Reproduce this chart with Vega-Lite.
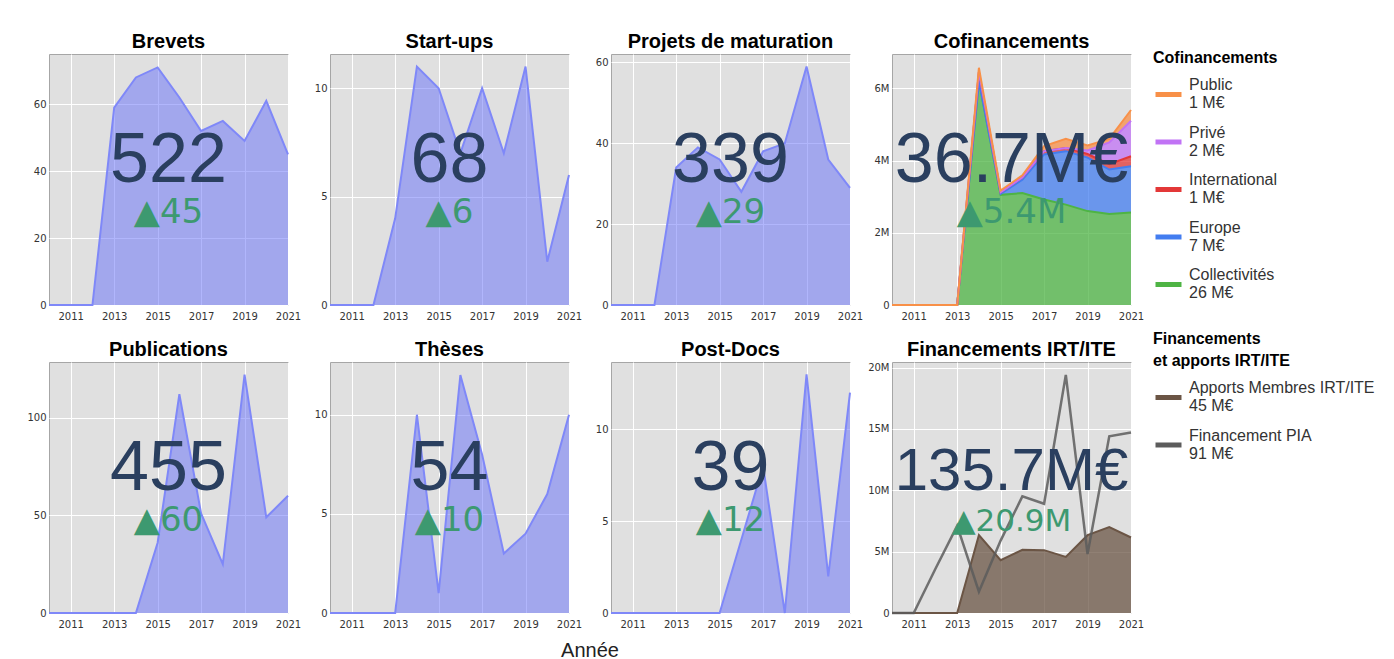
{
"$schema": "https://vega.github.io/schema/vega-lite/v6.json",
"background": "white",
"padding": {"left": 26, "top": 31, "right": 12, "bottom": 0},
"datasets": {
"kpi": [
{"panel":"Brevets","year":2010,"value":0},{"panel":"Brevets","year":2011,"value":0},{"panel":"Brevets","year":2012,"value":0},{"panel":"Brevets","year":2013,"value":59},{"panel":"Brevets","year":2014,"value":68},{"panel":"Brevets","year":2015,"value":71},{"panel":"Brevets","year":2016,"value":62},{"panel":"Brevets","year":2017,"value":52},{"panel":"Brevets","year":2018,"value":55},{"panel":"Brevets","year":2019,"value":49},{"panel":"Brevets","year":2020,"value":61},{"panel":"Brevets","year":2021,"value":45},
{"panel":"Start-ups","year":2010,"value":0},{"panel":"Start-ups","year":2011,"value":0},{"panel":"Start-ups","year":2012,"value":0},{"panel":"Start-ups","year":2013,"value":4},{"panel":"Start-ups","year":2014,"value":11},{"panel":"Start-ups","year":2015,"value":10},{"panel":"Start-ups","year":2016,"value":7},{"panel":"Start-ups","year":2017,"value":10},{"panel":"Start-ups","year":2018,"value":7},{"panel":"Start-ups","year":2019,"value":11},{"panel":"Start-ups","year":2020,"value":2},{"panel":"Start-ups","year":2021,"value":6},
{"panel":"Projets de maturation","year":2010,"value":0},{"panel":"Projets de maturation","year":2011,"value":0},{"panel":"Projets de maturation","year":2012,"value":0},{"panel":"Projets de maturation","year":2013,"value":34},{"panel":"Projets de maturation","year":2014,"value":39},{"panel":"Projets de maturation","year":2015,"value":36},{"panel":"Projets de maturation","year":2016,"value":28},{"panel":"Projets de maturation","year":2017,"value":38},{"panel":"Projets de maturation","year":2018,"value":40},{"panel":"Projets de maturation","year":2019,"value":59},{"panel":"Projets de maturation","year":2020,"value":36},{"panel":"Projets de maturation","year":2021,"value":29},
{"panel":"Publications","year":2010,"value":0},{"panel":"Publications","year":2011,"value":0},{"panel":"Publications","year":2012,"value":0},{"panel":"Publications","year":2013,"value":0},{"panel":"Publications","year":2014,"value":0},{"panel":"Publications","year":2015,"value":36},{"panel":"Publications","year":2016,"value":112},{"panel":"Publications","year":2017,"value":51},{"panel":"Publications","year":2018,"value":25},{"panel":"Publications","year":2019,"value":122},{"panel":"Publications","year":2020,"value":49},{"panel":"Publications","year":2021,"value":60},
{"panel":"Thèses","year":2010,"value":0},{"panel":"Thèses","year":2011,"value":0},{"panel":"Thèses","year":2012,"value":0},{"panel":"Thèses","year":2013,"value":0},{"panel":"Thèses","year":2014,"value":10},{"panel":"Thèses","year":2015,"value":1},{"panel":"Thèses","year":2016,"value":12},{"panel":"Thèses","year":2017,"value":8},{"panel":"Thèses","year":2018,"value":3},{"panel":"Thèses","year":2019,"value":4},{"panel":"Thèses","year":2020,"value":6},{"panel":"Thèses","year":2021,"value":10},
{"panel":"Post-Docs","year":2010,"value":0},{"panel":"Post-Docs","year":2011,"value":0},{"panel":"Post-Docs","year":2012,"value":0},{"panel":"Post-Docs","year":2013,"value":0},{"panel":"Post-Docs","year":2014,"value":0},{"panel":"Post-Docs","year":2015,"value":0},{"panel":"Post-Docs","year":2016,"value":4},{"panel":"Post-Docs","year":2017,"value":8},{"panel":"Post-Docs","year":2018,"value":0},{"panel":"Post-Docs","year":2019,"value":13},{"panel":"Post-Docs","year":2020,"value":2},{"panel":"Post-Docs","year":2021,"value":12}
],
"cofin": [
{"series":"Collectivités","year":2010,"value":0},{"series":"Collectivités","year":2011,"value":0},{"series":"Collectivités","year":2012,"value":0},{"series":"Collectivités","year":2013,"value":0},{"series":"Collectivités","year":2014,"value":6200000},{"series":"Collectivités","year":2015,"value":3050000},{"series":"Collectivités","year":2016,"value":3100000},{"series":"Collectivités","year":2017,"value":2920000},{"series":"Collectivités","year":2018,"value":2780000},{"series":"Collectivités","year":2019,"value":2600000},{"series":"Collectivités","year":2020,"value":2520000},{"series":"Collectivités","year":2021,"value":2560000},
{"series":"Europe","year":2010,"value":0},{"series":"Europe","year":2011,"value":0},{"series":"Europe","year":2012,"value":0},{"series":"Europe","year":2013,"value":0},{"series":"Europe","year":2014,"value":0},{"series":"Europe","year":2015,"value":30000},{"series":"Europe","year":2016,"value":370000},{"series":"Europe","year":2017,"value":1250000},{"series":"Europe","year":2018,"value":1480000},{"series":"Europe","year":2019,"value":1480000},{"series":"Europe","year":2020,"value":1230000},{"series":"Europe","year":2021,"value":1280000},
{"series":"International","year":2010,"value":0},{"series":"International","year":2011,"value":0},{"series":"International","year":2012,"value":0},{"series":"International","year":2013,"value":0},{"series":"International","year":2014,"value":250000},{"series":"International","year":2015,"value":40000},{"series":"International","year":2016,"value":60000},{"series":"International","year":2017,"value":90000},{"series":"International","year":2018,"value":90000},{"series":"International","year":2019,"value":100000},{"series":"International","year":2020,"value":150000},{"series":"International","year":2021,"value":280000},
{"series":"Privé","year":2010,"value":0},{"series":"Privé","year":2011,"value":0},{"series":"Privé","year":2012,"value":0},{"series":"Privé","year":2013,"value":0},{"series":"Privé","year":2014,"value":0},{"series":"Privé","year":2015,"value":0},{"series":"Privé","year":2016,"value":0},{"series":"Privé","year":2017,"value":0},{"series":"Privé","year":2018,"value":0},{"series":"Privé","year":2019,"value":100000},{"series":"Privé","year":2020,"value":600000},{"series":"Privé","year":2021,"value":980000},
{"series":"Public","year":2010,"value":0},{"series":"Public","year":2011,"value":0},{"series":"Public","year":2012,"value":0},{"series":"Public","year":2013,"value":0},{"series":"Public","year":2014,"value":120000},{"series":"Public","year":2015,"value":50000},{"series":"Public","year":2016,"value":60000},{"series":"Public","year":2017,"value":140000},{"series":"Public","year":2018,"value":250000},{"series":"Public","year":2019,"value":140000},{"series":"Public","year":2020,"value":100000},{"series":"Public","year":2021,"value":300000}
],
"irt": [
{"series":"Apports Membres IRT/ITE","year":2010,"value":0},{"series":"Apports Membres IRT/ITE","year":2011,"value":0},{"series":"Apports Membres IRT/ITE","year":2012,"value":0},{"series":"Apports Membres IRT/ITE","year":2013,"value":0},{"series":"Apports Membres IRT/ITE","year":2014,"value":6340000},{"series":"Apports Membres IRT/ITE","year":2015,"value":4300000},{"series":"Apports Membres IRT/ITE","year":2016,"value":5150000},{"series":"Apports Membres IRT/ITE","year":2017,"value":5120000},{"series":"Apports Membres IRT/ITE","year":2018,"value":4570000},{"series":"Apports Membres IRT/ITE","year":2019,"value":6340000},{"series":"Apports Membres IRT/ITE","year":2020,"value":7000000},{"series":"Apports Membres IRT/ITE","year":2021,"value":6150000},
{"series":"Financement PIA","year":2010,"value":0},{"series":"Financement PIA","year":2011,"value":0},{"series":"Financement PIA","year":2012,"value":3600000},{"series":"Financement PIA","year":2013,"value":7100000},{"series":"Financement PIA","year":2014,"value":1740000},{"series":"Financement PIA","year":2015,"value":5900000},{"series":"Financement PIA","year":2016,"value":9500000},{"series":"Financement PIA","year":2017,"value":8900000},{"series":"Financement PIA","year":2018,"value":19400000},{"series":"Financement PIA","year":2019,"value":4800000},{"series":"Financement PIA","year":2020,"value":14400000},{"series":"Financement PIA","year":2021,"value":14700000}
],
"labels": [
{"panel":"Brevets","total":"522","delta":"▲45"},
{"panel":"Start-ups","total":"68","delta":"▲6"},
{"panel":"Projets de maturation","total":"339","delta":"▲29"},
{"panel":"Cofinancements","total":"36.7M€","delta":"▲5.4M"},
{"panel":"Publications","total":"455","delta":"▲60"},
{"panel":"Thèses","total":"54","delta":"▲10"},
{"panel":"Post-Docs","total":"39","delta":"▲12"},
{"panel":"Financements IRT/ITE","total":"135.7M€","delta":"▲20.9M"}
]
},
"title": {"text": "Année", "orient": "bottom", "anchor": "middle", "frame": "group", "font": "Liberation Sans", "fontSize": 20, "fontWeight": "normal", "color": "#222", "offset": 11, "dx": 541},
"columns": 4,
"spacing": {"row": 57, "column": 42},
"bounds": "flush",
"resolve": {"scale": {"color": "independent"}, "legend": {"color": "independent"}},
"concat": [
{"title": "Brevets", "width": 239, "height": 251, "layer": [
 {"data": {"name": "kpi"}, "transform": [{"filter": "datum.panel == 'Brevets'"}],
  "mark": {"type": "area", "color": "#636efa", "fillOpacity": 0.5, "line": {"color": "#7f88f8", "strokeWidth": 2}},
  "encoding": {"x": {"field": "year", "type": "quantitative", "title": null, "scale": {"domain": [2010, 2021], "nice": false, "zero": false}, "axis": {"values": [2011, 2013, 2015, 2017, 2019, 2021], "format": "d"}},
   "y": {"field": "value", "type": "quantitative", "title": null, "scale": {"domain": [0, 75], "nice": false}, "axis": {"values": [0, 20, 40, 60]}}}},
 {"data": {"name": "labels"}, "transform": [{"filter": "datum.panel == 'Brevets'"}],
  "mark": {"type": "text", "font": "Liberation Sans", "fontSize": 70, "color": "#2a3f5f", "align": "center", "baseline": "alphabetic"},
  "encoding": {"text": {"field": "total"}, "x": {"datum": 2015.5, "type": "quantitative", "title": null}, "y": {"datum": 36.75, "type": "quantitative", "title": null}}},
 {"data": {"name": "labels"}, "transform": [{"filter": "datum.panel == 'Brevets'"}],
  "mark": {"type": "text", "font": "DejaVu Sans", "fontSize": 34, "color": "#3d9970", "align": "center", "baseline": "alphabetic"},
  "encoding": {"text": {"field": "delta"}, "x": {"datum": 2015.5, "type": "quantitative", "title": null}, "y": {"datum": 24.5, "type": "quantitative", "title": null}}}
]},
{"title": "Start-ups", "width": 239, "height": 251, "layer": [
 {"data": {"name": "kpi"}, "transform": [{"filter": "datum.panel == 'Start-ups'"}],
  "mark": {"type": "area", "color": "#636efa", "fillOpacity": 0.5, "line": {"color": "#7f88f8", "strokeWidth": 2}},
  "encoding": {"x": {"field": "year", "type": "quantitative", "title": null, "scale": {"domain": [2010, 2021], "nice": false, "zero": false}, "axis": {"values": [2011, 2013, 2015, 2017, 2019, 2021], "format": "d"}},
   "y": {"field": "value", "type": "quantitative", "title": null, "scale": {"domain": [0, 11.58], "nice": false}, "axis": {"values": [0, 5, 10]}}}},
 {"data": {"name": "labels"}, "transform": [{"filter": "datum.panel == 'Start-ups'"}],
  "mark": {"type": "text", "font": "Liberation Sans", "fontSize": 70, "color": "#2a3f5f", "align": "center", "baseline": "alphabetic"},
  "encoding": {"text": {"field": "total"}, "x": {"datum": 2015.5, "type": "quantitative", "title": null}, "y": {"datum": 5.67, "type": "quantitative", "title": null}}},
 {"data": {"name": "labels"}, "transform": [{"filter": "datum.panel == 'Start-ups'"}],
  "mark": {"type": "text", "font": "DejaVu Sans", "fontSize": 34, "color": "#3d9970", "align": "center", "baseline": "alphabetic"},
  "encoding": {"text": {"field": "delta"}, "x": {"datum": 2015.5, "type": "quantitative", "title": null}, "y": {"datum": 3.79, "type": "quantitative", "title": null}}}
]},
{"title": "Projets de maturation", "width": 239, "height": 251, "layer": [
 {"data": {"name": "kpi"}, "transform": [{"filter": "datum.panel == 'Projets de maturation'"}],
  "mark": {"type": "area", "color": "#636efa", "fillOpacity": 0.5, "line": {"color": "#7f88f8", "strokeWidth": 2}},
  "encoding": {"x": {"field": "year", "type": "quantitative", "title": null, "scale": {"domain": [2010, 2021], "nice": false, "zero": false}, "axis": {"values": [2011, 2013, 2015, 2017, 2019, 2021], "format": "d"}},
   "y": {"field": "value", "type": "quantitative", "title": null, "scale": {"domain": [0, 62.1], "nice": false}, "axis": {"values": [0, 20, 40, 60]}}}},
 {"data": {"name": "labels"}, "transform": [{"filter": "datum.panel == 'Projets de maturation'"}],
  "mark": {"type": "text", "font": "Liberation Sans", "fontSize": 70, "color": "#2a3f5f", "align": "center", "baseline": "alphabetic"},
  "encoding": {"text": {"field": "total"}, "x": {"datum": 2015.5, "type": "quantitative", "title": null}, "y": {"datum": 30.4, "type": "quantitative", "title": null}}},
 {"data": {"name": "labels"}, "transform": [{"filter": "datum.panel == 'Projets de maturation'"}],
  "mark": {"type": "text", "font": "DejaVu Sans", "fontSize": 34, "color": "#3d9970", "align": "center", "baseline": "alphabetic"},
  "encoding": {"text": {"field": "delta"}, "x": {"datum": 2015.5, "type": "quantitative", "title": null}, "y": {"datum": 20.3, "type": "quantitative", "title": null}}}
]},
{"title": "Cofinancements", "width": 239, "height": 251, "layer": [
 {"data": {"name": "cofin"},
  "mark": {"type": "area", "fillOpacity": 0.75, "line": {"strokeWidth": 2}},
  "encoding": {"x": {"field": "year", "type": "quantitative", "title": null, "scale": {"domain": [2010, 2021], "nice": false, "zero": false}, "axis": {"values": [2011, 2013, 2015, 2017, 2019, 2021], "format": "d"}},
   "y": {"field": "value", "type": "quantitative", "title": null, "stack": "zero", "scale": {"domain": [0, 6950000], "nice": false}, "axis": {"values": [0, 2000000, 4000000, 6000000], "labelExpr": "datum.value == 0 ? '0' : format(datum.value, '~s')"}},
   "color": {"field": "series", "type": "nominal", "scale": {"domain": ["Public", "Privé", "International", "Europe", "Collectivités"], "range": ["#f89048", "#c173f5", "#e33838", "#437df0", "#4eb444"]},
    "legend": {"title": "Cofinancements", "offset": 22, "labelExpr": "datum.label == 'Public' ? ['Public', '1 M€'] : datum.label == 'Privé' ? ['Privé', '2 M€'] : datum.label == 'International' ? ['International', '1 M€'] : datum.label == 'Europe' ? ['Europe', '7 M€'] : ['Collectivités', '26 M€']"}},
   "order": {"field": "series", "sort": "ascending"}}},
 {"data": {"name": "labels"}, "transform": [{"filter": "datum.panel == 'Cofinancements'"}],
  "mark": {"type": "text", "font": "Liberation Sans", "fontSize": 70, "color": "#2a3f5f", "align": "center", "baseline": "alphabetic"},
  "encoding": {"text": {"field": "total"}, "x": {"datum": 2015.5, "type": "quantitative", "title": null}, "y": {"datum": 3405000, "type": "quantitative", "title": null}}},
 {"data": {"name": "labels"}, "transform": [{"filter": "datum.panel == 'Cofinancements'"}],
  "mark": {"type": "text", "font": "DejaVu Sans", "fontSize": 34, "color": "#3d9970", "align": "center", "baseline": "alphabetic"},
  "encoding": {"text": {"field": "delta"}, "x": {"datum": 2015.5, "type": "quantitative", "title": null}, "y": {"datum": 2270000, "type": "quantitative", "title": null}}}
]},
{"title": "Publications", "width": 239, "height": 251, "layer": [
 {"data": {"name": "kpi"}, "transform": [{"filter": "datum.panel == 'Publications'"}],
  "mark": {"type": "area", "color": "#636efa", "fillOpacity": 0.5, "line": {"color": "#7f88f8", "strokeWidth": 2}},
  "encoding": {"x": {"field": "year", "type": "quantitative", "title": null, "scale": {"domain": [2010, 2021], "nice": false, "zero": false}, "axis": {"values": [2011, 2013, 2015, 2017, 2019, 2021], "format": "d"}},
   "y": {"field": "value", "type": "quantitative", "title": null, "scale": {"domain": [0, 128.5], "nice": false}, "axis": {"values": [0, 50, 100]}}}},
 {"data": {"name": "labels"}, "transform": [{"filter": "datum.panel == 'Publications'"}],
  "mark": {"type": "text", "font": "Liberation Sans", "fontSize": 70, "color": "#2a3f5f", "align": "center", "baseline": "alphabetic"},
  "encoding": {"text": {"field": "total"}, "x": {"datum": 2015.5, "type": "quantitative", "title": null}, "y": {"datum": 62.97, "type": "quantitative", "title": null}}},
 {"data": {"name": "labels"}, "transform": [{"filter": "datum.panel == 'Publications'"}],
  "mark": {"type": "text", "font": "DejaVu Sans", "fontSize": 34, "color": "#3d9970", "align": "center", "baseline": "alphabetic"},
  "encoding": {"text": {"field": "delta"}, "x": {"datum": 2015.5, "type": "quantitative", "title": null}, "y": {"datum": 42.0, "type": "quantitative", "title": null}}}
]},
{"title": "Thèses", "width": 239, "height": 251, "layer": [
 {"data": {"name": "kpi"}, "transform": [{"filter": "datum.panel == 'Thèses'"}],
  "mark": {"type": "area", "color": "#636efa", "fillOpacity": 0.5, "line": {"color": "#7f88f8", "strokeWidth": 2}},
  "encoding": {"x": {"field": "year", "type": "quantitative", "title": null, "scale": {"domain": [2010, 2021], "nice": false, "zero": false}, "axis": {"values": [2011, 2013, 2015, 2017, 2019, 2021], "format": "d"}},
   "y": {"field": "value", "type": "quantitative", "title": null, "scale": {"domain": [0, 12.66], "nice": false}, "axis": {"values": [0, 5, 10]}}}},
 {"data": {"name": "labels"}, "transform": [{"filter": "datum.panel == 'Thèses'"}],
  "mark": {"type": "text", "font": "Liberation Sans", "fontSize": 70, "color": "#2a3f5f", "align": "center", "baseline": "alphabetic"},
  "encoding": {"text": {"field": "total"}, "x": {"datum": 2015.5, "type": "quantitative", "title": null}, "y": {"datum": 6.2, "type": "quantitative", "title": null}}},
 {"data": {"name": "labels"}, "transform": [{"filter": "datum.panel == 'Thèses'"}],
  "mark": {"type": "text", "font": "DejaVu Sans", "fontSize": 34, "color": "#3d9970", "align": "center", "baseline": "alphabetic"},
  "encoding": {"text": {"field": "delta"}, "x": {"datum": 2015.5, "type": "quantitative", "title": null}, "y": {"datum": 4.14, "type": "quantitative", "title": null}}}
]},
{"title": "Post-Docs", "width": 239, "height": 251, "layer": [
 {"data": {"name": "kpi"}, "transform": [{"filter": "datum.panel == 'Post-Docs'"}],
  "mark": {"type": "area", "color": "#636efa", "fillOpacity": 0.5, "line": {"color": "#7f88f8", "strokeWidth": 2}},
  "encoding": {"x": {"field": "year", "type": "quantitative", "title": null, "scale": {"domain": [2010, 2021], "nice": false, "zero": false}, "axis": {"values": [2011, 2013, 2015, 2017, 2019, 2021], "format": "d"}},
   "y": {"field": "value", "type": "quantitative", "title": null, "scale": {"domain": [0, 13.67], "nice": false}, "axis": {"values": [0, 5, 10]}}}},
 {"data": {"name": "labels"}, "transform": [{"filter": "datum.panel == 'Post-Docs'"}],
  "mark": {"type": "text", "font": "Liberation Sans", "fontSize": 70, "color": "#2a3f5f", "align": "center", "baseline": "alphabetic"},
  "encoding": {"text": {"field": "total"}, "x": {"datum": 2015.5, "type": "quantitative", "title": null}, "y": {"datum": 6.7, "type": "quantitative", "title": null}}},
 {"data": {"name": "labels"}, "transform": [{"filter": "datum.panel == 'Post-Docs'"}],
  "mark": {"type": "text", "font": "DejaVu Sans", "fontSize": 34, "color": "#3d9970", "align": "center", "baseline": "alphabetic"},
  "encoding": {"text": {"field": "delta"}, "x": {"datum": 2015.5, "type": "quantitative", "title": null}, "y": {"datum": 4.47, "type": "quantitative", "title": null}}}
]},
{"title": {"text": "Financements IRT/ITE", "offset": -25}, "width": 239, "height": 251, "layer": [
 {"data": {"name": "irt"}, "transform": [{"filter": "datum.series == 'Apports Membres IRT/ITE'"}],
  "mark": {"type": "area", "fillOpacity": 0.75, "line": {"strokeWidth": 2}},
  "encoding": {"x": {"field": "year", "type": "quantitative", "title": null, "scale": {"domain": [2010, 2021], "nice": false, "zero": false}, "axis": {"values": [2011, 2013, 2015, 2017, 2019, 2021], "format": "d"}},
   "y": {"field": "value", "type": "quantitative", "title": null, "scale": {"domain": [0, 20450000], "nice": false}, "axis": {"values": [0, 5000000, 10000000, 15000000, 20000000], "labelExpr": "datum.value == 0 ? '0' : format(datum.value, '~s')"}},
   "color": {"field": "series", "type": "nominal", "scale": {"domain": ["Apports Membres IRT/ITE", "Financement PIA"], "range": ["#6b5545", "#5c5c5c"]},
    "legend": {"title": ["Financements", "et apports IRT/ITE"], "orient": "none", "legendX": 265, "legendY": -27, "labelExpr": "datum.label == 'Financement PIA' ? ['Financement PIA', '91 M€'] : ['Apports Membres IRT/ITE', '45 M€']"}}}},
 {"data": {"name": "irt"}, "transform": [{"filter": "datum.series == 'Financement PIA'"}],
  "mark": {"type": "line", "strokeWidth": 2.5, "strokeOpacity": 0.85},
  "encoding": {"x": {"field": "year", "type": "quantitative", "title": null},
   "y": {"field": "value", "type": "quantitative", "title": null},
   "color": {"field": "series", "type": "nominal"}}},
 {"data": {"name": "labels"}, "transform": [{"filter": "datum.panel == 'Financements IRT/ITE'"}],
  "mark": {"type": "text", "font": "Liberation Sans", "fontSize": 60, "color": "#2a3f5f", "align": "center", "baseline": "alphabetic"},
  "encoding": {"text": {"field": "total"}, "x": {"datum": 2015.5, "type": "quantitative", "title": null}, "y": {"datum": 10020000, "type": "quantitative", "title": null}}},
 {"data": {"name": "labels"}, "transform": [{"filter": "datum.panel == 'Financements IRT/ITE'"}],
  "mark": {"type": "text", "font": "DejaVu Sans", "fontSize": 31, "color": "#3d9970", "align": "center", "baseline": "alphabetic"},
  "encoding": {"text": {"field": "delta"}, "x": {"datum": 2015.5, "type": "quantitative", "title": null}, "y": {"datum": 6690000, "type": "quantitative", "title": null}}}
]}
],
"config": {
 "view": {"fill": "#e0e0e0", "stroke": "#a6a6a6", "strokeWidth": 1},
 "axis": {"labelFont": "DejaVu Sans", "labelFontSize": 10, "labelColor": "#333", "ticks": false, "domain": false, "grid": true, "gridColor": "#ffffff", "gridWidth": 1, "gridOpacity": 1, "labelFlush": false, "labelOverlap": false},
 "axisX": {"labelPadding": 6},
 "axisY": {"labelPadding": 3},
 "title": {"font": "Liberation Sans", "fontSize": 20, "fontWeight": "bold", "color": "#000", "offset": 2},
 "legend": {"titleFont": "Liberation Sans", "titleFontSize": 16, "titleFontWeight": "bold", "titleColor": "#000", "titleLineHeight": 22, "titlePadding": 3.5, "titleLimit": 300, "labelFont": "Liberation Sans", "labelFontSize": 16, "labelColor": "#333", "labelLimit": 300, "labelOffset": 5, "symbolType": "M-1,0.73H1", "symbolSize": 676, "symbolStrokeWidth": 5, "rowPadding": 5.5, "offset": 21, "padding": -4}
}
}
